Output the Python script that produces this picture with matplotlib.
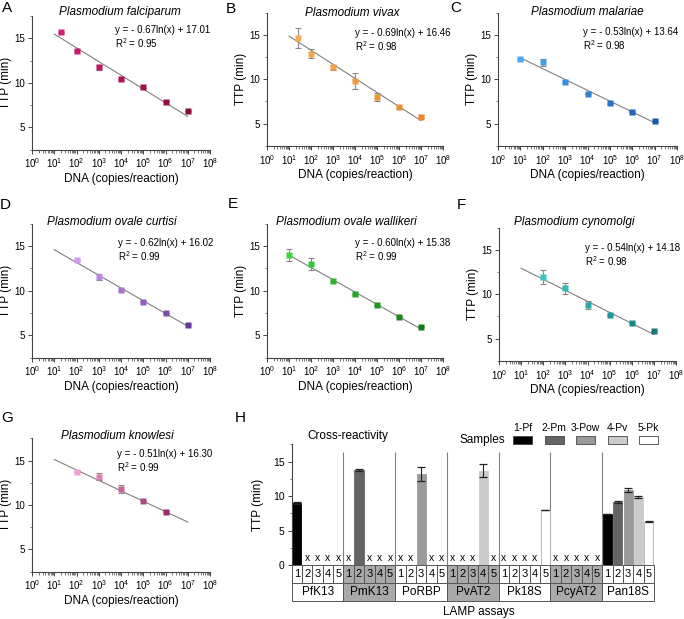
import numpy as np
import matplotlib
matplotlib.use("Agg")
import matplotlib.pyplot as plt
from matplotlib.colors import to_rgb
from matplotlib.patches import Rectangle
from matplotlib.ticker import LogLocator, MultipleLocator, NullFormatter, NullLocator

plt.rcParams['font.family'] = ['Liberation Sans', 'DejaVu Sans']
plt.rcParams['mathtext.fontset'] = 'custom'
plt.rcParams['mathtext.rm'] = 'Liberation Sans'
plt.rcParams['mathtext.it'] = 'Liberation Sans:italic'

# ---- standard curves (A-G) ----
species = ["Plasmodium falciparum", "Plasmodium vivax", "Plasmodium malariae",
           "Plasmodium ovale curtisi", "Plasmodium ovale wallikeri",
           "Plasmodium cynomolgi", "Plasmodium knowlesi"]

pf_copies = [20, 1e2, 1e3, 1e4, 1e5, 1e6, 1e7]
pf_ttp = [15.67, 13.54, 11.72, 10.37, 9.51, 7.87, 6.83]
pf_sd = [0.05, 0.1, 0.3, 0.05, 0.05, 0.05, 0.05]

pv_copies = [25, 1e2, 1e3, 1e4, 1e5, 1e6, 1e7]
pv_ttp = [14.66, 12.9, 11.35, 9.81, 8.05, 6.9, 5.8]
pv_sd = [1.1, 0.5, 0.25, 0.85, 0.45, 0.2, 0.15]

pm_copies = [1e1, 1e2, 1e3, 1e4, 1e5, 1e6, 1e7]
pm_ttp = [12.26, 11.9, 9.7, 8.38, 7.29, 6.35, 5.3]
pm_sd = [0.05, 0.4, 0.1, 0.05, 0.05, 0.05, 0.05]

poc_copies = [1e2, 1e3, 1e4, 1e5, 1e6, 1e7]
poc_ttp = [13.43, 11.5, 10.1, 8.77, 7.46, 6.16]
poc_sd = [0.05, 0.35, 0.15, 0.05, 0.05, 0.05]

pow_copies = [1e1, 1e2, 1e3, 1e4, 1e5, 1e6, 1e7]
pow_ttp = [14.0, 12.98, 11.04, 9.59, 8.36, 7.09, 5.97]
pow_sd = [0.65, 0.7, 0.05, 0.1, 0.05, 0.05, 0.05]

pcy_copies = [1e2, 1e3, 1e4, 1e5, 1e6, 1e7]
pcy_ttp = [11.95, 10.68, 8.8, 7.67, 6.8, 5.86]
pcy_sd = [0.75, 0.65, 0.45, 0.05, 0.05, 0.05]

pk_copies = [1e2, 1e3, 1e4, 1e5, 1e6]
pk_ttp = [13.76, 13.2, 11.77, 10.5, 9.22]
pk_sd = [0.05, 0.4, 0.45, 0.05, 0.05]

fit_slope = [-0.67, -0.69, -0.53, -0.62, -0.60, -0.54, -0.51]
fit_intercept = [17.01, 16.46, 13.64, 16.02, 15.38, 14.18, 16.30]
fit_r2 = [0.95, 0.98, 0.98, 0.99, 0.99, 0.98, 0.99]

# ---- cross-reactivity (H) ----
nan = np.nan
assays = ["PfK13", "PmK13", "PoRBP", "PvAT2", "Pk18S", "PcyAT2", "Pan18S"]
samples = ["1-Pf", "2-Pm", "3-Pow", "4-Pv", "5-Pk"]
cross_ttp = [
    [9.0, nan, nan, nan, nan],
    [nan, 13.8, nan, nan, nan],
    [nan, nan, 13.2, nan, nan],
    [nan, nan, nan, 13.7, nan],
    [nan, nan, nan, nan, 8.0],
    [nan, nan, nan, nan, nan],
    [7.4, 9.1, 10.9, 9.85, 6.3],
]
cross_sd = [
    [0.08, 0, 0, 0, 0],
    [0, 0.2, 0, 0, 0],
    [0, 0, 1.05, 0, 0],
    [0, 0, 0, 1.0, 0],
    [0, 0, 0, 0, 0.04],
    [0, 0, 0, 0, 0],
    [0.04, 0.12, 0.3, 0.18, 0.04],
]

W, H = 684, 619
fig = plt.figure(figsize=(W / 100, H / 100), dpi=100)


def add_ax(l, t, r, b):
    return fig.add_axes([l / W, 1 - b / H, (r - l) / W, (b - t) / H])


def ftext(x, y, s, **kw):
    fig.text(x / W, 1 - y / H, s, **kw)


def mix(c1, c2, f):
    a, b = np.array(to_rgb(c1)), np.array(to_rgb(c2))
    return tuple(a + (b - a) * f)


curve_data = [(pf_copies, pf_ttp, pf_sd), (pv_copies, pv_ttp, pv_sd),
              (pm_copies, pm_ttp, pm_sd), (poc_copies, poc_ttp, poc_sd),
              (pow_copies, pow_ttp, pow_sd), (pcy_copies, pcy_ttp, pcy_sd),
              (pk_copies, pk_ttp, pk_sd)]

# layout in pixels: axes box, letter pos, title pos, equation pos
boxes = [(32, 16, 210, 149.5), (267, 12.8, 443, 145.8), (498, 12.8, 677, 145.8),
         (32, 223.8, 210, 357.7), (267, 223.8, 443, 357.7), (499, 227.8, 676, 360.8),
         (32, 438.5, 210, 571.5)]
letters = [("A", 7, 8), ("B", 231, 9), ("C", 456, 8), ("D", 5, 205),
           ("E", 233, 204), ("F", 461, 205), ("G", 7, 418)]
title_pos = [(120, 12), (352, 13), (587, 12), (112, 222), (346, 222), (574, 222), (117, 436)]
eq_pos = [(115, 30), (355, 33), (583, 32), (118, 243), (355, 243), (585, 248), (117, 454)]
light = ['#d0207a', '#f8ac55', '#48aaf5', '#d49af8', '#38d838', '#38c8c4', '#f59ccc']
dark = ['#8a0a3a', '#ec8a25', '#1a55b0', '#6a3898', '#127a12', '#107a78', '#9a2c6a']

for k in range(7):
    l, t, r, b = boxes[k]
    ax = add_ax(l, t, r, b)
    x, y, sd = curve_data[k]
    xf = np.logspace(1, 7, 50)
    ax.plot(xf, fit_slope[k] * np.log(xf) + fit_intercept[k], color='#808080', lw=0.8, zorder=1)
    ax.errorbar(x, y, yerr=sd, fmt='none', ecolor='#888888', elinewidth=0.8,
                capsize=2, capthick=0.8, zorder=2)
    n = len(x)
    for i in range(n):
        ax.plot(x[i], y[i], 's', ms=3.9, mec='none',
                color=mix(light[k], dark[k], i / max(n - 1, 1)), zorder=3)
    ax.set_xscale('log')
    ax.set_xlim(1, 1e8)
    ax.set_ylim(2.5, 17.5)
    ax.xaxis.set_major_locator(LogLocator(base=10, numticks=12))
    ax.xaxis.set_minor_locator(LogLocator(base=10, subs=np.arange(2, 10), numticks=12))
    ax.xaxis.set_minor_formatter(NullFormatter())
    ax.set_yticks([5, 10, 15])
    ax.yaxis.set_minor_locator(MultipleLocator(2.5))
    for s in ['top', 'right']:
        ax.spines[s].set_visible(False)
    for s in ['left', 'bottom']:
        ax.spines[s].set_linewidth(0.8)
        ax.spines[s].set_color('#444444')
    ax.tick_params(which='major', length=3, width=0.7, labelsize=7, color='#444444', pad=2)
    ax.tick_params(which='minor', length=1.8, width=0.5, color='#444444')
    ax.set_xlabel("DNA (copies/reaction)", fontsize=8.5, labelpad=2)
    ftext(l - 26, (t + b) / 2, "TTP (min)", fontsize=8.5, rotation=90, ha='center', va='center')
    ftext(*title_pos[k], species[k], fontsize=8.5, style='italic', ha='center', va='center')
    ex, ey = eq_pos[k]
    ftext(ex, ey, f"y = - {abs(fit_slope[k]):.2f}ln(x) + {fit_intercept[k]:.2f}",
          fontsize=7, ha='left', va='center')
    ftext(ex, ey + 13.5, f"R$^2$ = {fit_r2[k]:.2f}", fontsize=7, ha='left', va='center')
    lt, lx, ly = letters[k]
    ftext(lx, ly, lt, fontsize=11, ha='center', va='center')

# ---- panel H ----
hl, ht, hr, hb = 291.7, 444.4, 654, 565
axh = add_ax(hl, ht, hr, hb)
sample_colors = ['#000000', '#646464', '#9a9a9a', '#cbcbcb', '#ffffff']
for i in range(len(assays)):
    for j in range(len(samples)):
        xc = i * 5 + j + 0.5
        v = cross_ttp[i][j]
        if np.isnan(v):
            axh.text(xc, 0.25, "x", fontsize=7.5, ha='center', va='bottom')
        else:
            axh.bar(xc, v, width=0.88, color=sample_colors[j], edgecolor='#b0b0b0' if j == 4 else sample_colors[j],
                    linewidth=0.6, zorder=2)
            axh.errorbar(xc, v, yerr=cross_sd[i][j], fmt='none', ecolor='#222222',
                         elinewidth=0.8, capsize=3, capthick=0.9, zorder=3)
axh.vlines(np.arange(5, 35, 5), 0, 16.4, color='#808080', lw=0.8, zorder=1)
axh.set_xlim(0, 35)
axh.set_ylim(0, 17.5)
axh.set_yticks([0, 5, 10, 15])
axh.yaxis.set_minor_locator(MultipleLocator(2.5))
axh.xaxis.set_major_locator(NullLocator())
for s in ['top', 'right', 'bottom']:
    axh.spines[s].set_visible(False)
axh.spines['left'].set_linewidth(0.8)
axh.spines['left'].set_color('#444444')
axh.tick_params(which='major', length=3, width=0.7, labelsize=7.5, color='#444444', pad=2)
axh.tick_params(which='minor', length=1.8, width=0.5, color='#444444')

# table under the bars
tr = axh.get_xaxis_transform()
row_h = 18 / (hb - ht)
for i in range(len(assays)):
    fill = '#a9a9a9' if i % 2 == 1 else 'white'
    for j in range(len(samples)):
        axh.add_patch(Rectangle((i * 5 + j, -row_h), 1, row_h, transform=tr, clip_on=False,
                                facecolor=fill, edgecolor='#555555', lw=0.7))
        axh.text(i * 5 + j + 0.5, -row_h / 2, str(j + 1), transform=tr, fontsize=8,
                 ha='center', va='center')
    axh.add_patch(Rectangle((i * 5, -2 * row_h), 5, row_h, transform=tr, clip_on=False,
                            facecolor=fill, edgecolor='#555555', lw=0.7))
    axh.text(i * 5 + 2.5, -1.5 * row_h, assays[i], transform=tr, fontsize=8.5,
             ha='center', va='center')

ftext(258, 505, "TTP (min)", fontsize=8.5, rotation=90, ha='center', va='center')
ftext(348, 436, "Cross-reactivity", fontsize=8.5, ha='center', va='center')
ftext(479, 612, "LAMP assays", fontsize=8.5, ha='center', va='center')
ftext(505, 440, "Samples", fontsize=8.5, ha='right', va='center')
for j in range(len(samples)):
    bx = 513 + 31.5 * j
    fig.add_artist(Rectangle((bx / W, 1 - 444.3 / H), 19 / W, 8.6 / H, transform=fig.transFigure,
                             facecolor=sample_colors[j], edgecolor='#444444', lw=0.6))
    ftext(bx + 9.5, 428, samples[j], fontsize=7.5, ha='center', va='center')
ftext(240, 418, "H", fontsize=11, ha='center', va='center')

fig.savefig("out.png", dpi=100)
